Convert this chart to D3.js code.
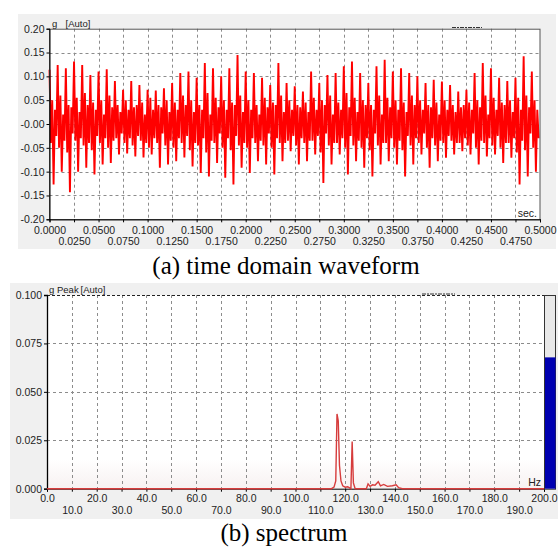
<!DOCTYPE html>
<html><head><meta charset="utf-8">
<script src="https://cdn.jsdelivr.net/npm/d3@7"></script>
<style>
body{margin:0;background:#fff}
svg{display:block}
.cap{font-family:'Liberation Serif','DejaVu Serif','Times New Roman',Times,serif}
</style>
</head><body>
<svg id="c" width="558" height="549"></svg>
<script>
// ---------- DATA ----------
// (a) time-domain waveform: per-cycle extremes (g)
const waveDuration = 0.5;
const waveHi = [0.114,0.124,0.117,0.131,0.124,0.103,0.110,0.115,0.090,0.072,0.090,0.082,0.072,0.070,0.075,
                0.086,0.107,0.110,0.097,0.128,0.117,0.100,0.117,0.145,0.110,0.107,0.097,0.082,0.128,0.086,
                0.079,0.068,0.110,0.086,0.103,0.107,0.121,0.131,0.107,0.086,0.121,0.135,0.110,0.117,0.107,
                0.100,0.086,0.093,0.089,0.082,0.068,0.072,0.107,0.128,0.117,0.097,0.090,0.097,0.142,0.110];
const waveLo = [-0.127,-0.100,-0.143,-0.100,-0.092,-0.106,-0.085,-0.082,-0.064,-0.062,-0.068,-0.070,-0.064,-0.092,-0.085,
                -0.078,-0.070,-0.089,-0.103,-0.110,-0.082,-0.113,-0.127,-0.092,-0.103,-0.078,-0.085,-0.106,-0.078,-0.057,
                -0.085,-0.078,-0.064,-0.124,-0.085,-0.064,-0.106,-0.078,-0.092,-0.110,-0.085,-0.078,-0.085,-0.110,-0.085,
                -0.064,-0.092,-0.078,-0.071,-0.064,-0.057,-0.064,-0.085,-0.068,-0.064,-0.082,-0.071,-0.127,-0.110,-0.100];
const waveMidHi = [0.05,0.06,0.04,0.055,0.065,0.045,0.05,0.06,0.04,0.05,0.035,0.045,0.055,0.04,0.05,
                   0.045,0.06,0.05,0.04,0.065,0.055,0.05,0.045,0.06,0.05,0.04,0.055,0.045,0.06,0.05,
                   0.04,0.045,0.055,0.05,0.06,0.045,0.065,0.055,0.05,0.04,0.06,0.055,0.05,0.045,0.06,
                   0.05,0.04,0.045,0.05,0.04,0.035,0.045,0.05,0.06,0.055,0.045,0.05,0.055,0.06,0.05];
const waveMidLo = [-0.04,-0.05,-0.06,-0.035,-0.045,-0.055,-0.04,-0.05,-0.03,-0.04,-0.045,-0.035,-0.05,-0.04,-0.045,
                   -0.05,-0.04,-0.055,-0.045,-0.06,-0.04,-0.05,-0.055,-0.045,-0.05,-0.04,-0.045,-0.05,-0.04,-0.035,
                   -0.045,-0.04,-0.035,-0.06,-0.045,-0.04,-0.05,-0.045,-0.05,-0.055,-0.045,-0.04,-0.05,-0.055,-0.045,
                   -0.04,-0.05,-0.045,-0.04,-0.035,-0.04,-0.045,-0.05,-0.04,-0.045,-0.05,-0.04,-0.06,-0.055,-0.05];
const waveInA = [0.03,0.02,0.035,0.025,0.04,0.03,0.02,0.035,0.025,0.03,0.04,0.02,0.03,0.035,0.025,
                 0.03,0.04,0.025,0.03,0.02,0.035,0.03,0.04,0.025,0.03,0.02,0.035,0.04,0.025,0.03,
                 0.035,0.025,0.03,0.04,0.02,0.03,0.035,0.025,0.04,0.03,0.02,0.035,0.03,0.025,0.04,
                 0.03,0.035,0.02,0.03,0.025,0.04,0.03,0.035,0.02,0.03,0.04,0.025,0.03,0.035,0.03];
const waveInB = [-0.025,-0.035,-0.02,-0.03,-0.04,-0.025,-0.03,-0.035,-0.02,-0.03,-0.025,-0.04,-0.03,-0.02,-0.035,
                 -0.03,-0.025,-0.04,-0.03,-0.035,-0.02,-0.03,-0.025,-0.04,-0.03,-0.035,-0.02,-0.03,-0.04,-0.025,
                 -0.03,-0.035,-0.025,-0.02,-0.04,-0.03,-0.025,-0.035,-0.03,-0.02,-0.04,-0.03,-0.035,-0.025,-0.03,
                 -0.02,-0.03,-0.035,-0.025,-0.04,-0.03,-0.02,-0.035,-0.03,-0.025,-0.04,-0.03,-0.035,-0.02,-0.03];
const timeTicks = [0,0.025,0.05,0.075,0.1,0.125,0.15,0.175,0.2,0.225,0.25,0.275,0.3,0.325,0.35,0.375,0.4,0.425,0.45,0.475,0.5];
const ampTicks = [0.20,0.15,0.10,0.05,0.00,-0.05,-0.10,-0.15,-0.20];
const ampTickLabels = ["0.20","0.15","0.10","0.05","-0.00","-0.05","-0.10","-0.15","-0.20"];

// (b) spectrum
const specFreq = [0,114.5,115.5,116.2,116.7,117.2,117.7,118.3,119.0,120.0,121.0,122.3,122.8,123.3,124.0,
                  128.5,129.2,130.0,131.0,132.0,133.3,134.2,135.5,137.0,139.0,140.5,141.5,143.0,200];
const specAmp  = [0,0,0.0008,0.004,0.0386,0.035,0.012,0.004,0.0015,0.0008,0.001,0.0,0.0243,0.003,0.0,
                  0.0,0.0025,0.0012,0.002,0.0018,0.0036,0.0015,0.0022,0.0012,0.0015,0.002,0.0005,0,0];
const freqTicks = [0,10,20,30,40,50,60,70,80,90,100,110,120,130,140,150,160,170,180,190,200];
const specTicks = [0,0.025,0.05,0.075,0.1];
const levelValue = 0.0678;

const captionA = "(a) time domain waveform";
const captionB = "(b) spectrum";

// ---------- DRAW ----------
const SANS = "Liberation Sans, Arial, sans-serif";
const svg = d3.select("#c").attr("font-family", SANS);
const panelFill = "#f0f0f0";
const gridColor = "#8c8c8c";

// ===== Top chart =====
svg.append("rect").attr("x",18).attr("y",14).attr("width",538).attr("height",235).attr("fill",panelFill);
const xT = d3.scaleLinear().domain([0,0.5]).range([49.5,540]);
const yT = d3.scaleLinear().domain([-0.2,0.2]).range([219.3,28.7]);
const gT = svg.append("g");
gT.append("rect").attr("x",xT(0)).attr("y",yT(0.2)).attr("width",xT(0.5)-xT(0)).attr("height",yT(-0.2)-yT(0.2)).attr("fill","#fff");
gT.selectAll(".vg").data(timeTicks.slice(1,-1)).join("line")
  .attr("x1",d=>Math.round(xT(d))+0.5).attr("x2",d=>Math.round(xT(d))+0.5)
  .attr("y1",yT(0.2)).attr("y2",yT(-0.2))
  .attr("stroke",gridColor).attr("stroke-dasharray","3,3");
gT.selectAll(".hg").data(ampTicks.slice(1,-1)).join("line")
  .attr("x1",xT(0)).attr("x2",xT(0.5))
  .attr("y1",d=>Math.round(yT(d))+0.5).attr("y2",d=>Math.round(yT(d))+0.5)
  .attr("stroke",gridColor).attr("stroke-dasharray","3,3");
// waveform
const nCyc = waveHi.length;
const per = 6;
const dt = waveDuration/(nCyc*per);
const samples = [];
for(let i=0;i<nCyc;i++){
  const vals = [waveHi[i], waveMidLo[i], waveMidHi[i], waveLo[i], waveInA[i], waveInB[i]];
  vals.forEach((v,k)=>samples.push([(per*i+k)*dt, v]));
}
gT.append("path").datum(samples)
  .attr("d", d3.line().x(d=>xT(d[0])).y(d=>yT(d[1])))
  .attr("fill","none").attr("stroke","#f00").attr("stroke-width",1.9).attr("stroke-linejoin","miter");
gT.append("rect").attr("x",xT(0)).attr("y",yT(0.2)+0.5).attr("width",xT(0.5)-xT(0)).attr("height",yT(-0.2)-yT(0.2))
  .attr("fill","none").attr("stroke","#555");
const axL = d3.axisLeft(yT).tickValues(ampTicks).tickFormat((d,i)=>ampTickLabels[i]).tickSize(3).tickPadding(2);
const gl = gT.append("g").attr("transform",`translate(${xT(0)},0)`).call(axL).attr("font-family",SANS);
gl.select(".domain").attr("stroke","#000");
gl.selectAll("text").attr("font-size",10.5).attr("fill","#222");
const axB = d3.axisBottom(xT).tickValues(timeTicks).tickFormat(d=>d.toFixed(4)).tickSize(3).tickPadding(4);
const gb = gT.append("g").attr("transform",`translate(0,${yT(-0.2)})`).call(axB).attr("font-family",SANS);
gb.select(".domain").attr("stroke","#000");
gb.selectAll("text").attr("font-size",10.5).attr("fill","#222")
  .attr("dy",(d,i)=> i%2 ? "1.75em" : "0.71em");
gT.append("text").attr("x",52).attr("y",26.5).attr("font-size",9.5).attr("fill","#222").text("g");
gT.append("text").attr("x",65.5).attr("y",26.5).attr("font-size",9.5).attr("fill","#222").text("[Auto]");
gT.append("text").attr("x",537).attr("y",216.5).attr("text-anchor","end").attr("font-size",10.5).attr("fill","#222").text("sec.");
gT.append("line").attr("x1",452).attr("x2",482).attr("y1",27.5).attr("y2",27.5).attr("stroke","#333").attr("stroke-dasharray","4,1,2,1");

// ===== Bottom chart =====
svg.append("rect").attr("x",10).attr("y",283).attr("width",548).attr("height",236).attr("fill",panelFill);
const xB = d3.scaleLinear().domain([0,200]).range([47,544]);
const yB = d3.scaleLinear().domain([0,0.1]).range([488.7,295]);
const gB = svg.append("g");
const defs = svg.append("defs");
const grad = defs.append("linearGradient").attr("id","bg").attr("x1",0).attr("x2",0).attr("y1",0).attr("y2",1);
grad.append("stop").attr("offset","0.85").attr("stop-color","#fff");
grad.append("stop").attr("offset","1").attr("stop-color","#f7f1f1");
gB.append("rect").attr("x",xB(0)).attr("y",yB(0.1)).attr("width",xB(200)-xB(0)).attr("height",yB(0)-yB(0.1)).attr("fill","url(#bg)");
gB.selectAll(".vg").data(freqTicks.slice(1,-1)).join("line")
  .attr("x1",d=>Math.round(xB(d))+0.5).attr("x2",d=>Math.round(xB(d))+0.5)
  .attr("y1",yB(0.1)).attr("y2",yB(0))
  .attr("stroke",gridColor).attr("stroke-dasharray","3,3");
gB.selectAll(".hg").data(specTicks.slice(1,-1)).join("line")
  .attr("x1",xB(0)).attr("x2",xB(200))
  .attr("y1",d=>Math.round(yB(d))+0.5).attr("y2",d=>Math.round(yB(d))+0.5)
  .attr("stroke",gridColor).attr("stroke-dasharray","3,3");
gB.append("line").attr("x1",xB(0)).attr("x2",xB(200)).attr("y1",yB(0.1)+0.5).attr("y2",yB(0.1)+0.5)
  .attr("stroke","#222").attr("stroke-dasharray","3,2");
const bL = d3.axisLeft(yB).tickValues(specTicks).tickFormat(d3.format(".3f")).tickSize(3).tickPadding(2);
const bl = gB.append("g").attr("transform",`translate(${xB(0)},0)`).call(bL).attr("font-family",SANS);
bl.select(".domain").attr("stroke","#000").attr("stroke-width",1.3);
bl.selectAll("text").attr("font-size",10.5).attr("fill","#222");
const bB = d3.axisBottom(xB).tickValues(freqTicks).tickFormat(d=>d.toFixed(1)).tickSize(3).tickPadding(3);
const bbx = gB.append("g").attr("transform",`translate(0,${yB(0)})`).call(bB).attr("font-family",SANS);
bbx.select(".domain").attr("stroke","#000");
bbx.selectAll("text").attr("font-size",10.5).attr("fill","#222")
  .attr("dy",(d,i)=> i%2 ? "1.8em" : "0.71em");
gB.append("path").datum(specFreq.map((f,i)=>[f,specAmp[i]]))
  .attr("d", d3.line().x(d=>xB(d[0])).y(d=>yB(d[1])))
  .attr("fill","none").attr("stroke","#d63c3c").attr("stroke-width",1.4);
gB.append("text").attr("x",49).attr("y",293).attr("font-size",9.5).attr("fill","#222").text("g");
gB.append("text").attr("x",57).attr("y",293).attr("font-size",9.5).attr("fill","#222").text("Peak");
gB.append("text").attr("x",80.5).attr("y",293).attr("font-size",9.5).attr("fill","#222").text("[Auto]");
gB.append("text").attr("x",541).attr("y",486).attr("text-anchor","end").attr("font-size",10.5).attr("fill","#222").text("Hz");
gB.append("line").attr("x1",422).attr("x2",455).attr("y1",294).attr("y2",294).attr("stroke","#333").attr("stroke-dasharray","4,1,2,1");
gB.append("rect").attr("x",544.5).attr("y",yB(0.1)+0.5).attr("width",11).attr("height",yB(0)-yB(0.1))
  .attr("fill","#e8e8e8").attr("stroke","#333");
gB.append("rect").attr("x",545).attr("y",yB(levelValue)).attr("width",10.5).attr("height",yB(0)-yB(levelValue))
  .attr("fill","#0000b0");

// captions
svg.append("text").attr("class","cap").attr("x",286).attr("y",274).attr("text-anchor","middle")
  .attr("font-size",25).attr("fill","#000").text(captionA);
svg.append("text").attr("class","cap").attr("x",284).attr("y",541).attr("text-anchor","middle")
  .attr("font-size",25).attr("fill","#000").text(captionB);
</script>
</body></html>
